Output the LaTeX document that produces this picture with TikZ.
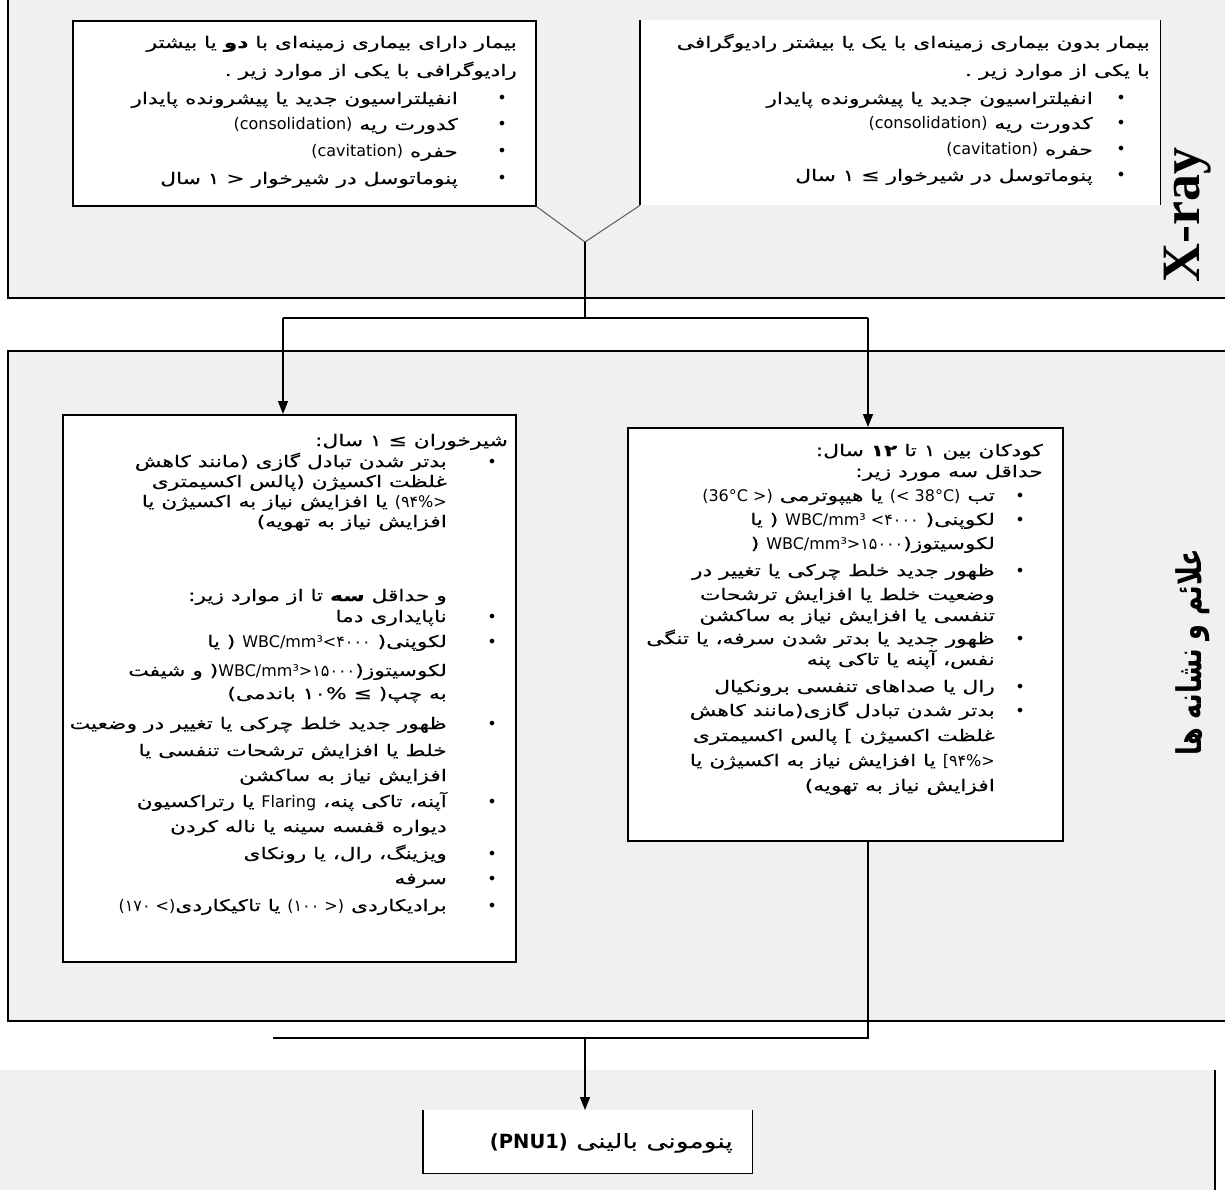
\documentclass[tikz,border=0pt]{standalone}
\usepackage{fontspec}
\usetikzlibrary{arrows.meta}
\setmainfont{DejaVu Sans}
\newfontfamily\ar[Script=Arabic, FakeStretch=1.36, FakeBold=0.3]{DejaVu Sans}
\newfontfamily\art[Script=Arabic, FakeStretch=0.75]{DejaVu Sans}
\newfontfamily\la{DejaVu Sans}
\newfontfamily\xr{Liberation Serif}
\TeXXeTstate=1
\definecolor{pg}{HTML}{F0F0F0}
\newcommand\Lseg[1]{\beginL{\la #1}\endL{}}
\newcommand\Tx[4]{\node[txt] (#1) at (#2,#3) {#4};}
\newcommand\Bu[5]{\node[bul] (#1b) at (#2,#4) {•};\node[txt] (#1) at (#3,#4) {#5};}
\tikzset{
  txt/.style={inner sep=0pt, anchor=base east, font=\ar\fontsize{16}{20}\selectfont},
  bul/.style={inner sep=0pt, anchor=base, font=\la\fontsize{16}{20}\selectfont},
  panel/.style={draw=black, line width=1.6pt, fill=pg},
  box/.style={draw=black, line width=1.6pt, fill=white, inner sep=0pt, anchor=north west},
  wbox/.style={fill=white, inner sep=0pt, anchor=north west},
  edge/.style={draw=black, line width=1.6pt},
  con/.style={draw=black, line width=1.4pt},
  arr/.style={con, -{Triangle[length=13pt, width=10pt]}},
  vline/.style={draw=black!65, line width=1pt}
}
\begin{document}
\begin{tikzpicture}[x=1pt,y=-1pt]
\useasboundingbox (0,0) rectangle (1225,1190);
% panels
\path[panel] (8,-20) rectangle (1240,298);
\path[panel] (8,351) rectangle (1240,1021);
\fill[pg] (-10,1070) rectangle (1215,1200);
\draw[edge] (1215,1070) -- (1215,1200);
% X-ray boxes
\node[box, minimum width=463pt, minimum height=185pt] (TL) at (72,20) {};
\node[wbox, minimum width=520pt, minimum height=185pt] (TR) at (640,20) {};
\draw[edge] (TR.north west) -- (TR.south west);
\draw[edge] (TR.north east) -- (TR.south east);
% lower boxes
\node[box, minimum width=453pt, minimum height=547pt] (BL) at (62,414) {};
\node[box, minimum width=435pt, minimum height=413pt] (BR) at (627,427) {};
% PNU box
\node[wbox, minimum width=329pt, minimum height=63pt] (PNU) at (423,1110) {};
\draw[edge] (PNU.north west) -- (PNU.south west) -- (PNU.south east) -- (PNU.north east);
% connectors
\coordinate (vtip) at (585,242);
\coordinate (split) at (585,318);
\coordinate (sL) at (283,318);
\coordinate (sR) at (868,318);
\draw[vline] (TL.south east) -- (vtip) -- (TR.south west);
\draw[con] (vtip) -- (split);
\draw[con] (sL) -- (sR);
\draw[arr] (sL) -- (sL |- BL.north);
\draw[arr] (sR) -- (sR |- BR.north);
\coordinate (jR) at (868,1038);
\coordinate (jL) at (273,1038);
\coordinate (jM) at (585,1038);
\draw[con] (jR |- BR.south) -- (jR) -- (jL);
\draw[arr] (jM) -- (jM |- PNU.north);
% side titles
\node[rotate=90, inner sep=0pt, font=\xr\bfseries\fontsize{54}{54}\selectfont] (xray) at (1188,215) {X-ray};
\node[rotate=90, inner sep=0pt, font=\art\bfseries\fontsize{34}{34}\selectfont] (sig) at (1193,652) {\beginR علائم و نشانه ها\endR};
% TL text
\Tx{tl1}{517}{48}{\beginR بیمار دارای بیماری زمینه‌ای با \textbf{دو} یا بیشتر\endR}
\Tx{tl2}{517}{76}{\beginR رادیوگرافی با یکی از موارد زیر .\endR}
\Bu{tla}{502}{458}{104}{\beginR انفیلتراسیون جدید یا پیشرونده  پایدار\endR}
\Bu{tlc}{502}{458}{130}{\beginR کدورت ریه {\la (consolidation)}\endR}
\Bu{tld}{502}{458}{157}{\beginR حفره {\la (cavitation)}\endR}
\Bu{tle}{502}{458}{184}{\beginR پنوماتوسل در شیرخوار < ۱ سال\endR}
% TR text
\Tx{tr1}{1150}{48}{\beginR بیمار بدون بیماری زمینه‌ای با یک یا بیشتر رادیوگرافی\endR}
\Tx{tr2}{1150}{76}{\beginR با یکی از موارد زیر .\endR}
\Bu{tra}{1121}{1093}{104}{\beginR انفیلتراسیون جدید یا پیشرونده  پایدار\endR}
\Bu{trc}{1121}{1093}{129}{\beginR کدورت ریه {\la (consolidation)}\endR}
\Bu{trd}{1121}{1093}{155}{\beginR حفره {\la (cavitation)}\endR}
\Bu{tre}{1121}{1093}{181}{\beginR پنوماتوسل در شیرخوار ≥ ۱ سال\endR}
% BL text
\Tx{bl1}{508}{446}{\beginR شیرخوران ≥ ۱ سال:\endR}
\Bu{bla}{492}{447}{467}{\beginR بدتر شدن تبادل گازی (مانند کاهش\endR}
\Tx{blb}{447}{487}{\beginR غلظت اکسیژن (پالس اکسیمتری\endR}
\Tx{blc}{447}{507}{\beginR \Lseg{(۹۴\%>} یا افزایش نیاز به اکسیژن یا\endR}
\Tx{bld}{447}{527}{\beginR افزایش نیاز به تهویه)\endR}
\Tx{ble}{447}{601}{\beginR و حداقل \textbf{سه} تا از موارد زیر:\endR}
\Bu{blf}{492}{447}{622}{\beginR ناپایداری دما\endR}
\Bu{blg}{492}{447}{647}{\beginR لکوپنی( \Lseg{WBC/mm³<۴۰۰۰} ( یا\endR}
\Tx{blh}{447}{676}{\beginR لکوسیتوز(\Lseg{WBC/mm³>۱۵۰۰۰}( و شیفت\endR}
\Tx{bli}{447}{699}{\beginR به چپ( ≥ ۱۰\% باندمی)\endR}
\Bu{blj}{492}{447}{729}{\beginR ظهور جدید خلط چرکی یا تغییر در وضعیت\endR}
\Tx{blk}{447}{756}{\beginR خلط یا افزایش ترشحات تنفسی یا\endR}
\Tx{bll}{447}{781}{\beginR افزایش نیاز به ساکشن\endR}
\Bu{blm}{492}{447}{807}{\beginR آپنه، تاکی پنه، {\la Flaring} یا رتراکسیون\endR}
\Tx{bln}{447}{832}{\beginR دیواره قفسه سینه یا ناله کردن\endR}
\Bu{blo}{492}{447}{859}{\beginR ویزینگ، رال، یا رونکای\endR}
\Bu{blp}{492}{447}{884}{\beginR سرفه\endR}
\Bu{blq}{492}{447}{911}{\beginR برادیکاردی \Lseg{(۱۰۰ >)} یا تاکیکاردی\Lseg{(۱۷۰ <)}\endR}
% BR text
\Tx{br1}{1043}{456}{\beginR کودکان بین ۱ تا \textbf{۱۲} سال:\endR}
\Tx{br2}{1043}{477}{\beginR حداقل سه مورد زیر:\endR}
\Bu{bra}{1020}{995}{501}{\beginR تب \Lseg{(< 38°C)} یا هیپوترمی \Lseg{(36°C >)}\endR}
\Bu{brb}{1020}{995}{525}{\beginR لکوپنی( \Lseg{WBC/mm³ <۴۰۰۰} ( یا\endR}
\Tx{brc}{995}{549}{\beginR لکوسیتوز(\Lseg{WBC/mm³>۱۵۰۰۰} (\endR}
\Bu{brd}{1020}{995}{576}{\beginR ظهور جدید خلط چرکی یا تغییر در\endR}
\Tx{bre}{995}{600}{\beginR وضعیت خلط یا افزایش ترشحات\endR}
\Tx{brf}{995}{621}{\beginR تنفسی یا افزایش نیاز به ساکشن\endR}
\Bu{brg}{1020}{995}{644}{\beginR ظهور جدید یا بدتر شدن سرفه، یا تنگی\endR}
\Tx{brh}{995}{665}{\beginR نفس، آپنه یا تاکی پنه\endR}
\Bu{bri}{1020}{995}{692}{\beginR رال یا صداهای تنفسی برونکیال\endR}
\Bu{brj}{1020}{995}{716}{\beginR بدتر شدن تبادل گازی(مانند کاهش\endR}
\Tx{brk}{995}{741}{\beginR غلظت اکسیژن ] پالس اکسیمتری\endR}
\Tx{brl}{995}{766}{\beginR \Lseg{[۹۴\%>}  یا افزایش نیاز به اکسیژن یا\endR}
\Tx{brm}{995}{791}{\beginR افزایش نیاز به تهویه)\endR}
% PNU text
\node[txt, font=\ar\fontsize{19.5}{22}\selectfont] (pnu) at (733,1148) {\beginR پنومونی بالینی {\la\bfseries (PNU1)}\endR};
\end{tikzpicture}
\end{document}
